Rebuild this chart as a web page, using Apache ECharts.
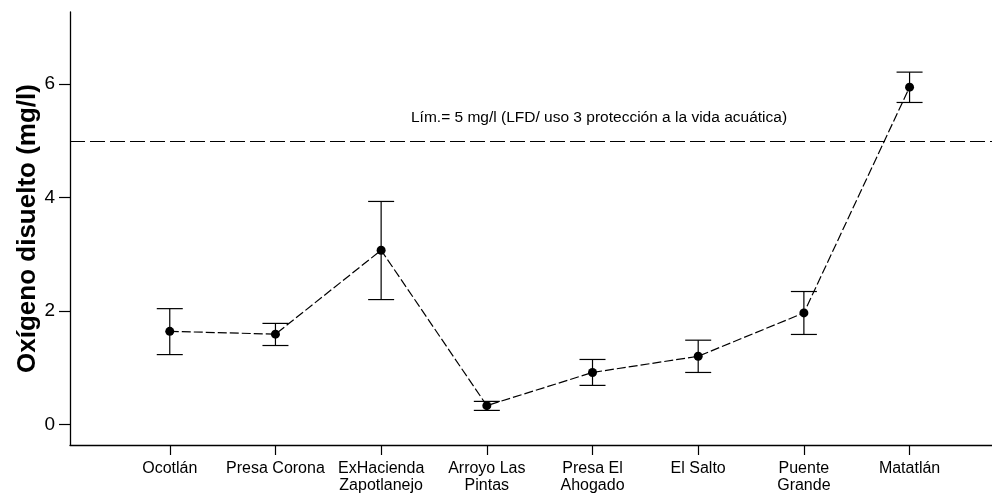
<!DOCTYPE html>
<html>
<head>
<meta charset="utf-8">
<script src="https://cdn.jsdelivr.net/npm/echarts@6/dist/echarts.min.js"></script>
<style>
html,body{margin:0;padding:0;background:#fff;}
#chart{width:992px;height:494px;}
</style>
</head>
<body>
<div id="chart"></div>
<script>
const categories = ['Ocotlán', 'Presa Corona', 'ExHacienda\nZapotlanejo', 'Arroyo Las\nPintas', 'Presa El\nAhogado', 'El Salto', 'Puente\nGrande', 'Matatlán'];
const means = [1.64, 1.59, 3.07, 0.33, 0.915, 1.20, 1.965, 5.945];
const lower = [1.23, 1.39, 2.20, 0.246, 0.687, 0.915, 1.585, 5.675];
const upper = [2.04, 1.78, 3.93, 0.405, 1.144, 1.484, 2.342, 6.21];
const yTicks = [0, 2, 4, 6];
const limitValue = 5;
const limitLabel = 'Lím.= 5 mg/l (LFD/ uso 3 protección a la vida acuática)';
const yName = 'Oxígeno disuelto (mg/l)';

const FONT = 'Liberation Sans, Arial, sans-serif';
const idx = categories.map((c, i) => i);

const chart = echarts.init(document.getElementById('chart'));
chart.setOption({
  animation: false,
  backgroundColor: '#fff',
  grid: { left: 70, right: 0, top: 12, bottom: 48, containLabel: false },
  xAxis: {
    type: 'value',
    min: -0.944,
    max: 7.78,
    axisLine: { show: true, onZero: false, lineStyle: { color: '#000', width: 1.3 } },
    axisTick: { show: true, length: 10, customValues: idx, lineStyle: { color: '#000', width: 1.2 } },
    axisLabel: {
      customValues: idx,
      formatter: v => categories[Math.round(v)],
      color: '#000', fontFamily: FONT, fontSize: 16, lineHeight: 17, margin: 15,
      align: 'center', verticalAlign: 'top'
    },
    splitLine: { show: false }
  },
  yAxis: {
    type: 'value',
    min: -0.364,
    max: 7.27,
    name: yName,
    nameLocation: 'middle',
    nameGap: 29,
    nameMoveOverlap: false,
    nameTextStyle: { color: '#000', fontFamily: FONT, fontSize: 26, fontWeight: 'bold' },
    axisLine: { show: true, onZero: false, lineStyle: { color: '#000', width: 1.3 } },
    axisTick: { show: true, length: 11, customValues: yTicks, lineStyle: { color: '#000', width: 1.2 } },
    axisLabel: { customValues: yTicks, color: '#000', fontFamily: FONT, fontSize: 19, margin: 15 },
    splitLine: { show: false }
  },
  graphic: [{
    type: 'text',
    left: 411, top: 110,
    style: { text: limitLabel, fill: '#000', font: '15.5px ' + FONT }
  }],
  series: [
    {
      type: 'line',
      data: means.map((m, i) => [i, m]),
      symbol: 'circle',
      symbolSize: 9,
      itemStyle: { color: '#000' },
      lineStyle: { color: '#000', width: 1.2, type: [9, 3] },
      z: 3,
      markLine: {
        silent: true,
        symbol: 'none',
        label: { show: false },
        lineStyle: { color: '#000', width: 1, type: [15, 5] },
        data: [{ yAxis: limitValue }]
      }
    },
    {
      type: 'custom',
      data: idx.map(i => [i, lower[i], upper[i]]),
      clip: false,
      z: 2,
      renderItem: function (params, api) {
        const x = api.value(0);
        const lo = api.coord([x, api.value(1)]);
        const hi = api.coord([x, api.value(2)]);
        const hw = 13;
        const st = { stroke: '#000', lineWidth: 1.2 };
        return {
          type: 'group',
          children: [
            { type: 'line', shape: { x1: hi[0], y1: hi[1], x2: lo[0], y2: lo[1] }, style: st },
            { type: 'line', shape: { x1: hi[0] - hw, y1: hi[1], x2: hi[0] + hw, y2: hi[1] }, style: st },
            { type: 'line', shape: { x1: lo[0] - hw, y1: lo[1], x2: lo[0] + hw, y2: lo[1] }, style: st }
          ]
        };
      }
    }
  ]
});
</script>
</body>
</html>
